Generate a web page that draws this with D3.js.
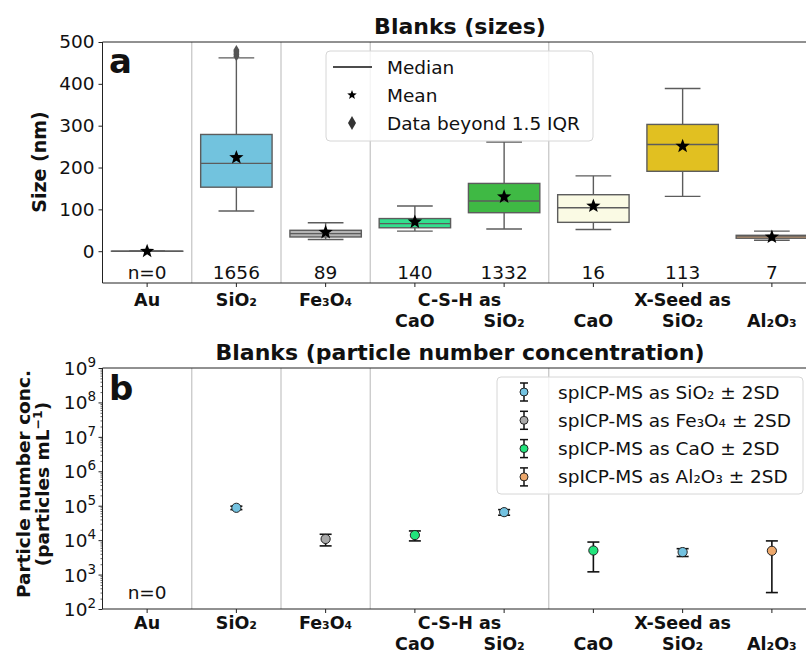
<!DOCTYPE html>
<html><head><meta charset="utf-8">
<script src="https://cdn.jsdelivr.net/npm/d3@7"></script>
<style>body{margin:0;background:#fff} text{font-family:"DejaVu Sans",sans-serif;fill:#111}</style>
</head><body><svg id="c" width="806" height="656"></svg>
<script>
// ---------- data ----------
const categories = ["Au","SiO2","Fe3O4","CSH_CaO","CSH_SiO2","XS_CaO","XS_SiO2","Al2O3"];
const tickRow1 = ["Au","SiO₂","Fe₃O₄","","","","X-Seed as",""];
const tickRow2 = ["","","","CaO","SiO₂","CaO","SiO₂","Al₂O₃"];
const groupLabel = "C-S-H as";           // centred between ticks 3 and 4
const separators = [0.5, 1.5, 2.5, 4.5]; // category-index separators

const boxQ1      = [0,153,34, 56, 92, 69,191,31];
const boxMedian  = [0,210,42, 66,120,104,255,36];
const boxQ3      = [0,279,50, 78,162,135,303,38];
const whiskerLow = [0, 96,28, 48, 53, 52,131,26];
const whiskerHigh= [0,462,68,108,261,180,389,48];
const means      = [0,224,45, 70,130,108,251,34];
const counts     = ["n=0","1656","89","140","1332","16","113","7"];
const outliersSiO2 = [466,470,474,478,481];
const boxColors  = ["#d0d0d0","#72c3de","#b4b4b4","#33e08e","#3fb944","#fafae4","#e1c021","#dca678"];
const sizeTicks  = [0,100,200,300,400,500];

const concMean   = [null, 87000, 10800, 14000, 65000, 5000, 4500, 4900];
const concErr    = [null, 10000,  4000,  4500, 12000, 3800, 1150, 4600];
const concSeries = [null, 0, 1, 2, 0, 2, 0, 3];
const seriesNames  = ["spICP-MS as SiO₂ ± 2SD","spICP-MS as Fe₃O₄ ± 2SD","spICP-MS as CaO ± 2SD","spICP-MS as Al₂O₃ ± 2SD"];
const seriesColors = ["#73c2e0","#a9a9a9","#22e47c","#eda86c"];
const logTicks = [1e2,1e3,1e4,1e5,1e6,1e7,1e8,1e9];
const legendTop = ["Median","Mean","Data beyond 1.5 IQR"];

// ---------- setup ----------
const svg = d3.select("#c");
const x = d3.scaleBand().domain(categories).range([102.5, 816.5]).padding(0);
const bw = x.bandwidth();
const cx = c => x(c) + bw/2;
const xi = i => x.range()[0] + (i+0.5)*bw;
const spine = "#222", boxStroke = "#5c5c5c", grid = "#c8c8c8";
const labelFS = 17.5;

function starPath(r){
  const pts=[];
  for(let k=0;k<10;k++){
    const a=-Math.PI/2+k*Math.PI/5, rr=k%2?r*0.42:r;
    pts.push([rr*Math.cos(a), rr*Math.sin(a)]);
  }
  return "M"+pts.map(p=>p[0].toFixed(2)+","+p[1].toFixed(2)).join("L")+"Z";
}

function xAxisLabels(yBottom, d1, d2){
  const g = svg.append("g");
  const ax = d3.axisBottom(x).tickSize(4).tickFormat("");
  g.append("g").attr("transform",`translate(0,${yBottom})`).call(ax)
    .call(s=>{s.select(".domain").remove(); s.selectAll("line").attr("stroke",spine);});
  categories.forEach((c,i)=>{
    if(tickRow1[i]) g.append("text").attr("x",cx(c)).attr("y",yBottom+d1).attr("text-anchor","middle")
      .attr("font-weight","bold").attr("font-size",labelFS).text(tickRow1[i]);
    if(tickRow2[i]) g.append("text").attr("x",cx(c)).attr("y",yBottom+d2).attr("text-anchor","middle")
      .attr("font-weight","bold").attr("font-size",labelFS).text(tickRow2[i]);
  });
  g.append("text").attr("x",(cx(categories[3])+cx(categories[4]))/2).attr("y",yBottom+d1)
    .attr("text-anchor","middle").attr("font-weight","bold").attr("font-size",labelFS).text(groupLabel);
}

// ================= PANEL A =================
const yA = d3.scaleLinear().domain([-76,500]).range([283,42]);
const gA = svg.append("g");
separators.forEach(s=>gA.append("line").attr("x1",xi(s)).attr("x2",xi(s)).attr("y1",42).attr("y2",283)
  .attr("stroke",grid).attr("stroke-width",1.3));

categories.forEach((c,i)=>{
  const xc=cx(c), w=bw*0.8, cap=w/2;
  const g=gA.append("g");
  g.append("line").attr("x1",xc).attr("x2",xc).attr("y1",yA(boxQ3[i])).attr("y2",yA(whiskerHigh[i])).attr("stroke",boxStroke).attr("stroke-width",1.4);
  g.append("line").attr("x1",xc).attr("x2",xc).attr("y1",yA(boxQ1[i])).attr("y2",yA(whiskerLow[i])).attr("stroke",boxStroke).attr("stroke-width",1.4);
  [whiskerHigh[i],whiskerLow[i]].forEach(v=>g.append("line").attr("x1",xc-cap/2).attr("x2",xc+cap/2)
    .attr("y1",yA(v)).attr("y2",yA(v)).attr("stroke",boxStroke).attr("stroke-width",1.4));
  g.append("rect").attr("x",xc-w/2).attr("width",w).attr("y",yA(boxQ3[i]))
    .attr("height",Math.max(0.01,yA(boxQ1[i])-yA(boxQ3[i]))).attr("fill",boxColors[i])
    .attr("stroke",boxStroke).attr("stroke-width",1.4);
  g.append("line").attr("x1",xc-w/2).attr("x2",xc+w/2).attr("y1",yA(boxMedian[i])).attr("y2",yA(boxMedian[i]))
    .attr("stroke",boxStroke).attr("stroke-width",1.4);
  g.append("path").attr("d",starPath(7.5)).attr("transform",`translate(${xc},${yA(means[i])})`).attr("fill","#000");
  g.append("text").attr("x",xc).attr("y",279).attr("text-anchor","middle").attr("font-size",18.5).text(counts[i]);
});
outliersSiO2.forEach(v=>gA.append("path").attr("d","M0,-5L3,0L0,5L-3,0Z")
  .attr("transform",`translate(${cx(categories[1])},${yA(v)})`).attr("fill","#555"));

// axes
gA.append("g").attr("transform","translate(102.5,0)")
  .call(d3.axisLeft(yA).tickValues(sizeTicks).tickSize(4).tickPadding(4))
  .call(s=>{s.select(".domain").remove(); s.selectAll("line").attr("stroke",spine);
    s.selectAll("text").attr("font-size",18.5).attr("font-family","DejaVu Sans").attr("fill","#111");});
gA.append("line").attr("x1",102.5).attr("x2",102.5).attr("y1",42).attr("y2",283).attr("stroke",spine);
gA.append("line").attr("x1",102.5).attr("x2",816).attr("y1",283).attr("y2",283).attr("stroke",spine);
gA.append("line").attr("x1",102.5).attr("x2",816).attr("y1",42).attr("y2",42).attr("stroke",spine);
xAxisLabels(283, 23, 44);
gA.append("text").attr("x",460).attr("y",34).attr("text-anchor","middle").attr("font-weight","bold").attr("font-size",22).text("Blanks (sizes)");
gA.append("text").attr("transform","translate(46,162) rotate(-90)").attr("text-anchor","middle")
  .attr("font-weight","bold").attr("font-size",19).text("Size (nm)");
gA.append("text").attr("x",109).attr("y",73).attr("font-weight","bold").attr("font-size",34).text("a");

// legend A
const lA = gA.append("g");
lA.append("rect").attr("x",326).attr("y",51).attr("width",267).attr("height",90).attr("rx",4)
  .attr("fill","rgba(255,255,255,0.8)").attr("stroke","#d6d6d6");
lA.append("line").attr("x1",333).attr("x2",372).attr("y1",67).attr("y2",67).attr("stroke","#111").attr("stroke-width",1.3);
lA.append("path").attr("d",starPath(5)).attr("transform","translate(352,95)").attr("fill","#000");
lA.append("path").attr("d","M0,-7L4,0L0,7L-4,0Z").attr("transform","translate(352,123)").attr("fill","#333");
legendTop.forEach((t,k)=>lA.append("text").attr("x",387).attr("y",74+k*28).attr("font-size",18.5).text(t));

// ================= PANEL B =================
const yB = d3.scaleLog().domain([1e2,1e9]).range([609,368]);
const gB = svg.append("g");
separators.forEach(s=>gB.append("line").attr("x1",xi(s)).attr("x2",xi(s)).attr("y1",368).attr("y2",609)
  .attr("stroke",grid).attr("stroke-width",1.3));

// minor ticks
const minor=[];
for(let e=2;e<9;e++) for(let m=2;m<10;m++) minor.push(m*Math.pow(10,e));
gB.append("g").attr("transform","translate(102.5,0)")
  .call(d3.axisLeft(yB).tickValues(minor).tickSize(2).tickFormat(""))
  .call(s=>{s.select(".domain").remove(); s.selectAll("line").attr("stroke",spine).attr("stroke-width",0.7);});
gB.append("g").attr("transform","translate(102.5,0)")
  .call(d3.axisLeft(yB).tickValues(logTicks).tickSize(4).tickPadding(4).tickFormat(()=>""))
  .call(s=>{s.select(".domain").remove(); s.selectAll("line").attr("stroke",spine);});
logTicks.forEach(v=>{
  const e=Math.round(Math.log10(v));
  const t=gB.append("text").attr("x",96).attr("y",yB(v)+7).attr("text-anchor","end").attr("font-size",18.5);
  t.append("tspan").text("10");
  t.append("tspan").attr("dy",-8).attr("font-size",13.5).text(String(e));
});
gB.append("line").attr("x1",102.5).attr("x2",102.5).attr("y1",368).attr("y2",609).attr("stroke",spine);
gB.append("line").attr("x1",102.5).attr("x2",816).attr("y1",609).attr("y2",609).attr("stroke",spine);
gB.append("line").attr("x1",102.5).attr("x2",816).attr("y1",368).attr("y2",368).attr("stroke",spine);
xAxisLabels(609, 20, 41);

categories.forEach((c,i)=>{
  if(concMean[i]==null) return;
  const xc=cx(c), m=concMean[i], e=concErr[i];
  const g=gB.append("g");
  g.append("line").attr("x1",xc).attr("x2",xc).attr("y1",yB(m+e)).attr("y2",yB(m-e)).attr("stroke","#111").attr("stroke-width",1.6);
  [m+e,m-e].forEach(v=>g.append("line").attr("x1",xc-6).attr("x2",xc+6).attr("y1",yB(v)).attr("y2",yB(v)).attr("stroke","#111").attr("stroke-width",1.6));
  g.append("circle").attr("cx",xc).attr("cy",yB(m)).attr("r",4.6).attr("fill",seriesColors[concSeries[i]]).attr("stroke","#222").attr("stroke-width",1);
});
gB.append("text").attr("x",cx(categories[0])).attr("y",599).attr("text-anchor","middle").attr("font-size",18.5).text("n=0");

gB.append("text").attr("x",460).attr("y",360).attr("text-anchor","middle").attr("font-weight","bold").attr("font-size",22)
  .text("Blanks (particle number concentration)");
gB.append("text").attr("transform","translate(30,484) rotate(-90)").attr("text-anchor","middle")
  .attr("font-weight","bold").attr("font-size",18.5).text("Particle number conc.");
const yl=gB.append("text").attr("transform","translate(49,484) rotate(-90)").attr("text-anchor","middle")
  .attr("font-weight","bold").attr("font-size",18.5);
yl.append("tspan").text("(particles mL");
yl.append("tspan").attr("dy",-7).attr("font-size",12.5).text("−1");
yl.append("tspan").attr("dy",7).text(")");
gB.append("text").attr("x",109).attr("y",400).attr("font-weight","bold").attr("font-size",34).text("b");

// legend B
const lB = gB.append("g");
lB.append("rect").attr("x",497).attr("y",377).attr("width",306).attr("height",117).attr("rx",4)
  .attr("fill","rgba(255,255,255,0.8)").attr("stroke","#d6d6d6");
seriesNames.forEach((t,k)=>{
  const yy=392+k*28.3;
  lB.append("line").attr("x1",524).attr("x2",524).attr("y1",yy-9).attr("y2",yy+9).attr("stroke","#111").attr("stroke-width",1.5);
  [yy-9,yy+9].forEach(v=>lB.append("line").attr("x1",520).attr("x2",528).attr("y1",v).attr("y2",v).attr("stroke","#111").attr("stroke-width",1.5));
  lB.append("circle").attr("cx",524).attr("cy",yy).attr("r",4).attr("fill",seriesColors[k]).attr("stroke","#222");
  lB.append("text").attr("x",558).attr("y",yy+6.5).attr("font-size",18.5).text(t);
});
</script></body></html>
